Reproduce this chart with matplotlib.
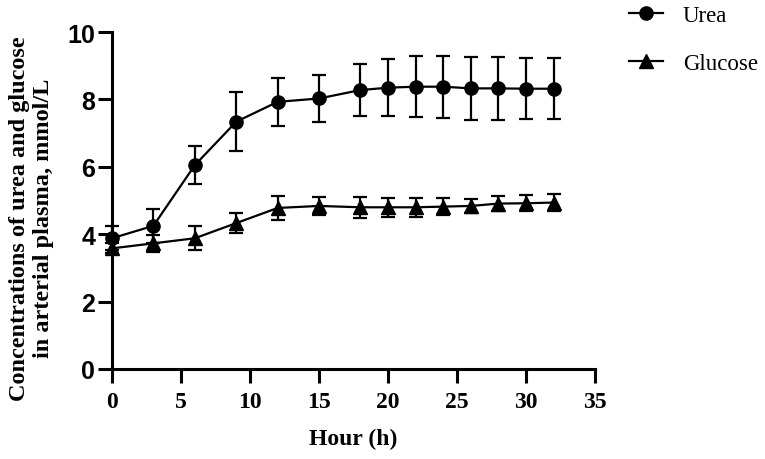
import matplotlib.pyplot as plt

hours = [0, 3, 6, 9, 12, 15, 18, 20, 22, 24, 26, 28, 30, 32]
urea = [3.88, 4.25, 6.05, 7.34, 7.93, 8.03, 8.28, 8.35, 8.38, 8.38, 8.33, 8.33, 8.32, 8.32]
ureaErr = [0.35, 0.5, 0.56, 0.87, 0.71, 0.69, 0.77, 0.84, 0.9, 0.92, 0.93, 0.93, 0.9, 0.91]
glucose = [3.58, 3.73, 3.88, 4.33, 4.78, 4.84, 4.8, 4.8, 4.8, 4.82, 4.84, 4.91, 4.92, 4.94]
glucoseErr = [0.15, 0.25, 0.35, 0.3, 0.36, 0.27, 0.31, 0.29, 0.28, 0.25, 0.22, 0.22, 0.24, 0.25]
xTicks = [0, 5, 10, 15, 20, 25, 30, 35]
yTicks = [0, 2, 4, 6, 8, 10]

serif = "Liberation Serif"
sans = "Liberation Sans"


def main():
    fig = plt.figure(figsize=(7.65, 4.6), dpi=100)
    ax = fig.add_axes([0.1464, 0.1957, 0.6314, 0.7323])

    ax.errorbar(hours, urea, yerr=ureaErr, color="black", marker="o", ms=9.5,
                lw=1.6, elinewidth=1.6, capsize=5, capthick=1.6, label="Urea",
                clip_on=False, zorder=3)
    ax.errorbar(hours, glucose, yerr=glucoseErr, color="black", marker="^", ms=9.5,
                lw=1.6, elinewidth=1.6, capsize=5, capthick=1.6, label="Glucose",
                clip_on=False, zorder=3)

    ax.set_xlim(0, 35)
    ax.set_ylim(0, 10)
    ax.set_xticks(xTicks)
    ax.set_yticks(yTicks)
    for s in ["top", "right"]:
        ax.spines[s].set_visible(False)
    for s in ["left", "bottom"]:
        ax.spines[s].set_linewidth(2.2)
    ax.tick_params(width=2.2, length=10, direction="out")
    ax.tick_params(axis="y", pad=2)
    ax.tick_params(axis="x", pad=6)
    for t in ax.get_xticklabels():
        t.set_fontfamily(serif)
        t.set_fontweight("bold")
        t.set_fontsize(17)
    for t in ax.get_yticklabels():
        t.set_fontfamily(sans)
        t.set_fontweight("bold")
        t.set_fontsize(18)

    ax.set_xlabel("Hour (h)", fontfamily=serif, fontweight="bold", fontsize=17, labelpad=11)
    ax.set_ylabel("Concentrations of urea and glucose\nin arterial plasma, mmol/L",
                  fontfamily=serif, fontweight="bold", fontsize=17.5,
                  linespacing=1.2)
    ax.yaxis.set_label_coords(-0.12, 0.45)

    handles, labels = ax.get_legend_handles_labels()
    handles = [h[0] for h in handles]
    fig.legend(handles, labels, loc="upper left", bbox_to_anchor=(0.804, 1.016),
               frameon=False, prop={"family": serif, "size": 16.5}, borderpad=0.1,
               labelspacing=1.15, handlelength=1.5, handletextpad=0.85)

    fig.savefig("out.png", dpi=100)


if __name__ == "__main__":
    main()
